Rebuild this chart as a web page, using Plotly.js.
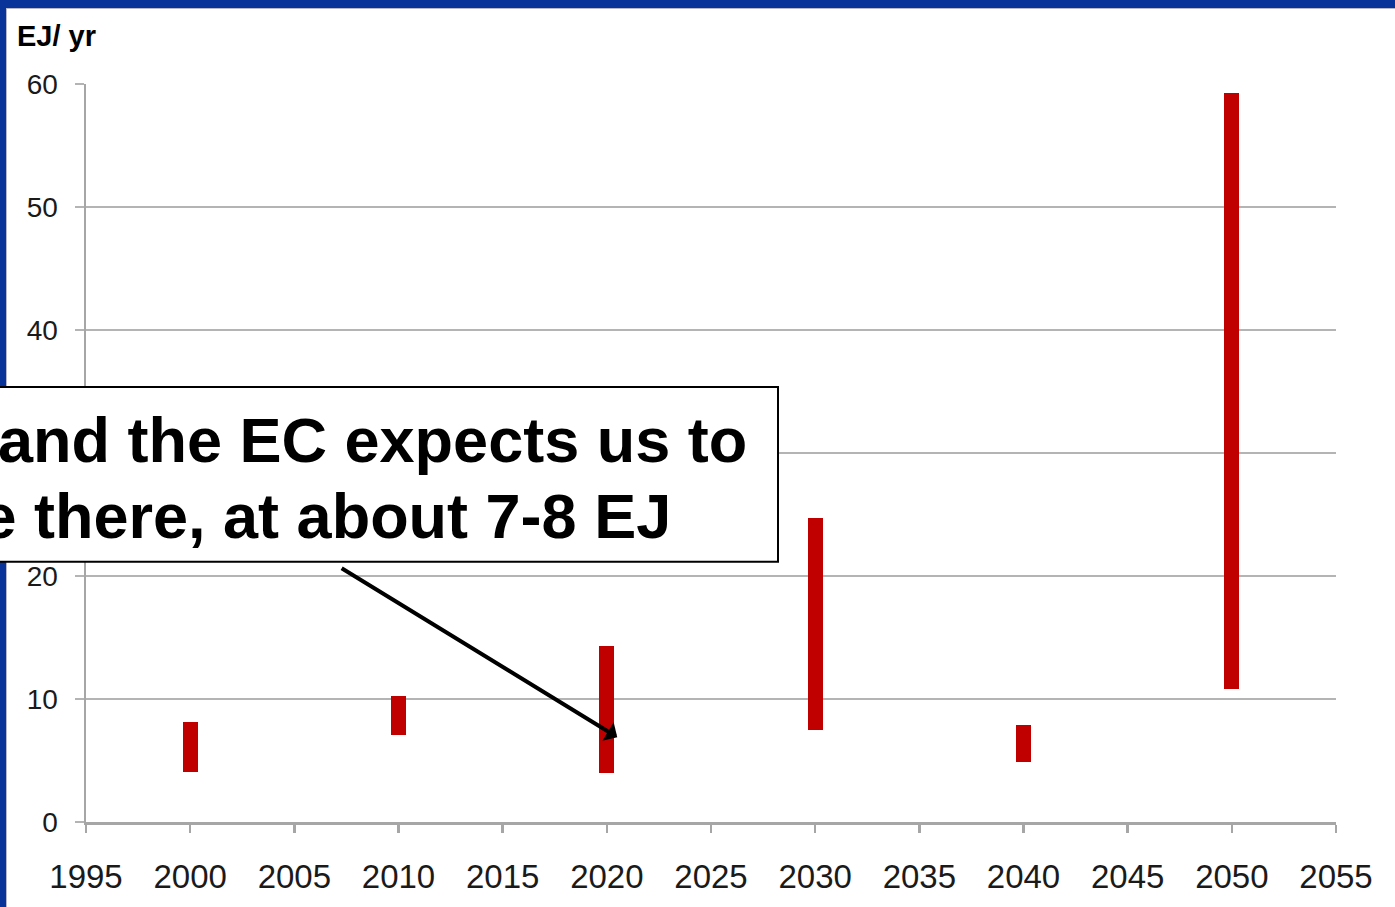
<!DOCTYPE html>
<html>
<head>
<meta charset="utf-8">
<script src="https://cdn.plot.ly/plotly-3.0.1.min.js"></script>
<style>
  html, body { margin: 0; padding: 0; width: 1395px; height: 907px; overflow: hidden; background: #0a3399; }
  #frame { position: absolute; left: 6px; top: 8px; width: 1389px; height: 899px; background: #ffffff; border-left: 1px solid #b8b8c8; border-top: 1px solid #b8b8c8; box-sizing: border-box; }
  #chart { position: absolute; left: 0; top: 0; width: 1395px; height: 907px; }
</style>
</head>
<body>
<div id="frame"></div>
<div id="chart"></div>
<script>
// Data (EJ/yr ranges per year)
var years = [2000, 2010, 2020, 2030, 2040, 2050];
var lowValues = [4.1, 7.1, 4.0, 7.5, 4.85, 10.8];
var highValues = [8.1, 10.25, 14.3, 24.75, 7.85, 59.3];
var xTickValues = [1995, 2000, 2005, 2010, 2015, 2020, 2025, 2030, 2035, 2040, 2045, 2050, 2055];
var yTickValues = [0, 10, 20, 30, 40, 50, 60];
var yTickLabels = ['0', '10', '20', '', '40', '50', '60']; // "30" is hidden under the callout box
var yAxisLabel = "EJ/ yr";
var calloutLine1 = "and the EC expects us to";
var calloutLine2 = "be there, at about 7-8 EJ";
var arrowHead = {x: 2020.5, y: 6.9};
var arrowTail = {x: 2007.2, y: 20.7};

var spans = highValues.map(function (h, i) { return h - lowValues[i]; });

var trace = {
  type: 'bar',
  x: years,
  y: spans,
  base: lowValues,
  width: 0.72,
  marker: { color: '#c00000', line: { width: 0 } },
  hoverinfo: 'skip'
};

var FONT = 'Liberation Sans, Arial, sans-serif';
var layout = {
  width: 1395,
  height: 907,
  margin: { l: 86, r: 59, t: 83.5, b: 84.5, pad: 0 },
  paper_bgcolor: 'rgba(0,0,0,0)',
  plot_bgcolor: 'rgba(0,0,0,0)',
  showlegend: false,
  bargap: 0,
  xaxis: {
    range: [1995, 2055],
    tickvals: xTickValues,
    ticktext: xTickValues.map(String),
    showgrid: false,
    zeroline: false,
    showline: true,
    linecolor: '#a6a6a6',
    linewidth: 2.5,
    ticks: 'outside',
    ticklen: 8,
    tickwidth: 2.5,
    tickcolor: '#a6a6a6',
    ticklabelstandoff: 16,
    tickfont: { family: FONT, size: 33, color: '#1a1a1a' },
    fixedrange: true
  },
  yaxis: {
    range: [0, 60],
    tickvals: yTickValues,
    ticktext: yTickLabels,
    showgrid: true,
    gridcolor: '#b4b4b4',
    gridwidth: 2.5,
    zeroline: false,
    showline: true,
    linecolor: '#a6a6a6',
    linewidth: 2.5,
    ticks: 'outside',
    ticklen: 9,
    tickwidth: 2.5,
    tickcolor: '#b4b4b4',
    ticklabelstandoff: 11,
    tickfont: { family: FONT, size: 28, color: '#1a1a1a' },
    fixedrange: true
  },
  shapes: [
    {
      type: 'rect', xref: 'paper', yref: 'paper',
      x0: -0.12, x1: 0.5536, y0: 0.3525, y1: 0.5893,
      fillcolor: '#ffffff',
      line: { color: '#000000', width: 2 },
      layer: 'above'
    }
  ],
  annotations: [
    {
      xref: 'paper', yref: 'paper', x: -0.0568, y: 1.0656,
      xanchor: 'left', yanchor: 'middle',
      text: '<b>' + yAxisLabel + '</b>',
      showarrow: false,
      font: { family: FONT, size: 29, color: '#000000' }
    },
    {
      xref: 'paper', yref: 'paper', x: -0.0712, y: 0.5176,
      xanchor: 'left', yanchor: 'middle',
      text: '<b>' + calloutLine1 + '</b>',
      showarrow: false, borderpad: 0,
      font: { family: FONT, size: 63, color: '#000000' }
    },
    {
      xref: 'paper', yref: 'paper', x: -0.1152, y: 0.4148,
      xanchor: 'left', yanchor: 'middle',
      text: '<b>' + calloutLine2 + '</b>',
      showarrow: false, borderpad: 0,
      font: { family: FONT, size: 63, color: '#000000' }
    },
    {
      xref: 'x', yref: 'y', x: arrowHead.x, y: arrowHead.y,
      axref: 'x', ayref: 'y', ax: arrowTail.x, ay: arrowTail.y,
      text: '', showarrow: true,
      arrowhead: 1, arrowsize: 0.9, arrowwidth: 4, arrowcolor: '#000000',
      standoff: 0, startstandoff: 0
    }
  ]
};

Plotly.newPlot('chart', [trace], layout, { staticPlot: true, displayModeBar: false });
</script>
</body>
</html>
